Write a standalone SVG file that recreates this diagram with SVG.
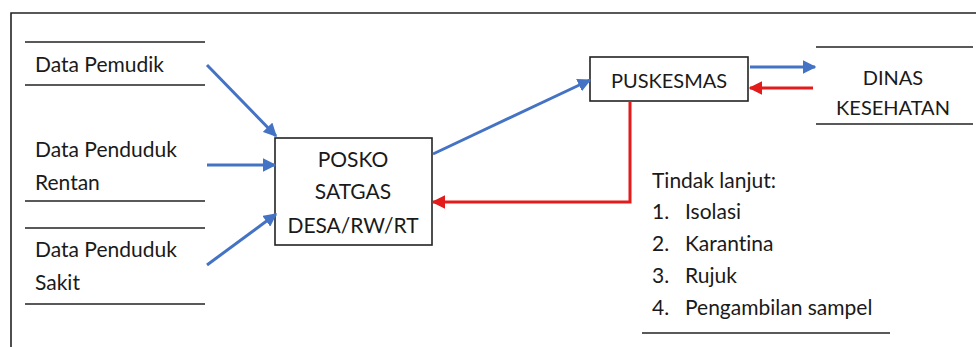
<svg xmlns="http://www.w3.org/2000/svg" width="976" height="347" viewBox="0 0 976 347">
<style>
text{font-family:Lato,"Open Sans","Liberation Sans",sans-serif;font-size:21px;fill:#1a1a1a;font-variant-ligatures:none}
.ln{stroke:#222;stroke-width:1.6;fill:none}
.box{fill:#fff;stroke:#222;stroke-width:1.6}
.b{stroke:#4472C4;stroke-width:3;fill:none}
.r{stroke:#E31B1B;stroke-width:3;fill:none}
.m{text-anchor:middle}
.c{font-size:20px}
</style>
<defs>
<marker id="ab" viewBox="0 0 10 10" refX="9" refY="5" markerWidth="4.5" markerHeight="4.5" orient="auto" markerUnits="strokeWidth"><path d="M0,0 L10,5 L0,10 z" fill="#4472C4"/></marker>
<marker id="ar" viewBox="0 0 10 10" refX="9" refY="5" markerWidth="4.5" markerHeight="4.5" orient="auto" markerUnits="strokeWidth"><path d="M0,0 L10,5 L0,10 z" fill="#E31B1B"/></marker>
</defs>
<rect width="976" height="347" fill="#fff"/>
<path d="M11,347 V13 H976" class="ln" stroke-width="2"/>
<g id="data-pemudik">
<line x1="25" y1="42" x2="205" y2="42" class="ln"/>
<line x1="25" y1="85" x2="205" y2="85" class="ln"/>
<text x="35" y="72">Data Pemudik</text>
</g>
<g id="data-rentan">
<line x1="25" y1="201" x2="205" y2="201" class="ln"/>
<text x="35" y="157">Data Penduduk</text>
<text x="35" y="190">Rentan</text>
</g>
<g id="data-sakit">
<line x1="25" y1="228" x2="205" y2="228" class="ln"/>
<line x1="25" y1="304" x2="205" y2="304" class="ln"/>
<text x="35" y="257">Data Penduduk</text>
<text x="35" y="290">Sakit</text>
</g>
<g id="posko">
<rect x="275" y="138" width="157" height="107" class="box"/>
<text x="353" y="167" class="m">POSKO</text>
<text x="353" y="199" class="m">SATGAS</text>
<text x="353" y="233" class="m">DESA/RW/RT</text>
</g>
<g id="puskesmas">
<rect x="590" y="57" width="158" height="44" class="box"/>
<text x="669" y="88" class="m c">PUSKESMAS</text>
</g>
<g id="dinas">
<line x1="816" y1="47" x2="973" y2="47" class="ln"/>
<line x1="816" y1="124" x2="973" y2="124" class="ln"/>
<text x="893" y="85" class="m c">DINAS</text>
<text x="893" y="115" class="m c">KESEHATAN</text>
</g>
<g id="tindak-lanjut">
<text x="652" y="188">Tindak lanjut:</text>
<text x="652" y="219">1.</text><text x="685" y="219">Isolasi</text>
<text x="652" y="251">2.</text><text x="685" y="251">Karantina</text>
<text x="652" y="283">3.</text><text x="685" y="283">Rujuk</text>
<text x="652" y="315">4.</text><text x="685" y="315">Pengambilan sampel</text>
<line x1="642" y1="333" x2="890" y2="333" class="ln"/>
</g>
<g id="connectors">
<line x1="207" y1="65" x2="276" y2="136" class="b" marker-end="url(#ab)"/>
<line x1="207" y1="165" x2="275" y2="165" class="b" marker-end="url(#ab)"/>
<line x1="207" y1="265" x2="276" y2="214" class="b" marker-end="url(#ab)"/>
<line x1="433" y1="154" x2="590" y2="80" class="b" marker-end="url(#ab)"/>
<line x1="750" y1="67" x2="815" y2="67" class="b" marker-end="url(#ab)"/>
<line x1="813" y1="88" x2="750" y2="88" class="r" marker-end="url(#ar)"/>
<polyline points="630,101 630,202 433,202" class="r" marker-end="url(#ar)"/>
</g>
</svg>
